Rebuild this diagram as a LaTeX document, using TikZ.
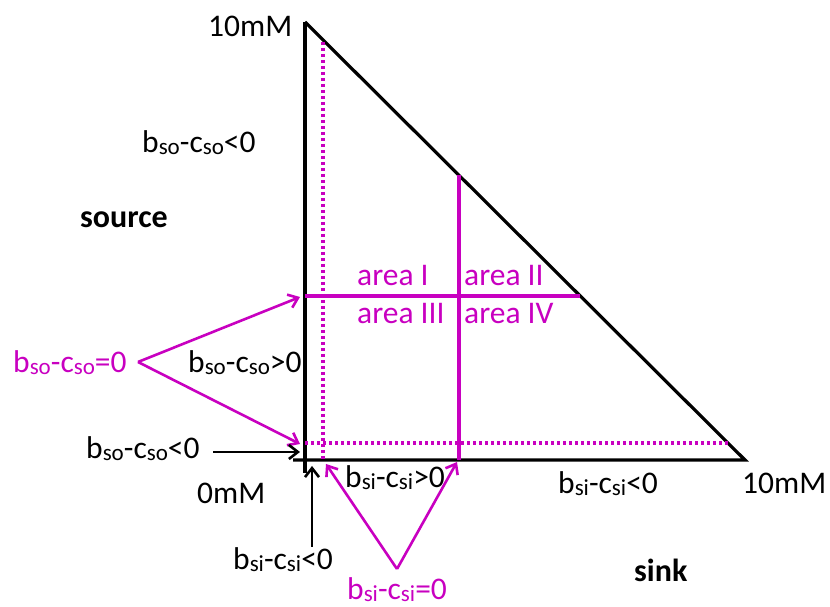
\documentclass[tikz,border=0pt]{standalone}
\usepackage{fontspec}
\setmainfont{Carlito}
\usetikzlibrary{arrows.meta, calc}
\definecolor{areamag}{RGB}{200,0,192}
\newcommand{\sbs}[1]{\raisebox{-0.12ex}{\fontsize{23}{23}\selectfont #1}}

\begin{document}
\begin{tikzpicture}[
    x=1pt, y=1pt,
    every node/.style={font=\fontsize{31.5}{34}\selectfont, inner sep=0pt, anchor=base west},
    lbl/.style ={text=black},
    mlbl/.style={text=areamag},
    big/.style ={font=\fontsize{32}{34}\selectfont\bfseries},
    axis/.style={line width=3.2pt},
    bound/.style={line width=3.2pt, areamag},
    dots/.style={line width=3.2pt, areamag, dash pattern=on 3pt off 3pt},
    parr/.style={-{Straight Barb[length=9pt, width=14pt, line width=2.6pt]}, line width=2.6pt, areamag},
    barr/.style={-{Straight Barb[length=9pt, width=14pt, line width=2.6pt]}, line width=2.6pt},
]
\useasboundingbox (0,0) rectangle (830,607);
% corners of the triangle
\coordinate (top)   at (305,585);
\coordinate (orig)  at (305,147);
\coordinate (right) at (745,147);
\draw[axis] (top) -- (305,134);
\draw[axis] (293,147) -- (right) -- (top);
% thresholds
\draw[dots] (323,565) -- (323,147);
\draw[dots] (305,164) -- (728,164);
\draw[bound] (459,147) -- (459,432);
\draw[bound] (305,311) -- (580,311);
% text
\node[lbl] (tentop)  at (208,570) {10mM};
\node[lbl] (soneghi) at (142,454) {b\sbs{so}-c\sbs{so}<0};
\node[big] (source)  at (80,379)  {source};
\node[mlbl] (areaA)  at (357,321) {area I};
\node[mlbl] (areaB)  at (464,321) {area II};
\node[mlbl] (areaC)  at (357,283) {area III};
\node[mlbl] (areaD)  at (464,283) {area IV};
\node[mlbl] (sozero) at (13,234)  {b\sbs{so}-c\sbs{so}=0};
\node[lbl] (sopos)   at (188,234) {b\sbs{so}-c\sbs{so}>0};
\node[lbl] (soneglo) at (86,148)  {b\sbs{so}-c\sbs{so}<0};
\node[lbl] (zero)    at (197,103) {0mM};
\node[lbl] (sipos)   at (345,119) {b\sbs{si}-c\sbs{si}>0};
\node[lbl] (sinegr)  at (558,113) {b\sbs{si}-c\sbs{si}<0};
\node[lbl] (tenright) at (742,113) {10mM};
\node[lbl] (sineglo) at (233,37)  {b\sbs{si}-c\sbs{si}<0};
\node[mlbl] (sizero) at (347,7)   {b\sbs{si}-c\sbs{si}=0};
\node[big] (sink)    at (634,25)  {sink};
% arrows to the thresholds
\coordinate (soapex) at (138,245);
\coordinate (siapex) at (397,38);
\coordinate (soarr)  at (213,155);
\coordinate (siarr)  at (312,60);
\draw[parr] (soapex) -- (300,310);
\draw[parr] (soapex) -- (300,163);
\draw[barr] (soarr) -- (300,155);
\draw[barr] (siarr) -- (312,141);
\draw[parr] (siapex) -- (326,143);
\draw[parr] (siapex) -- (457,145);
\end{tikzpicture}
\end{document}
